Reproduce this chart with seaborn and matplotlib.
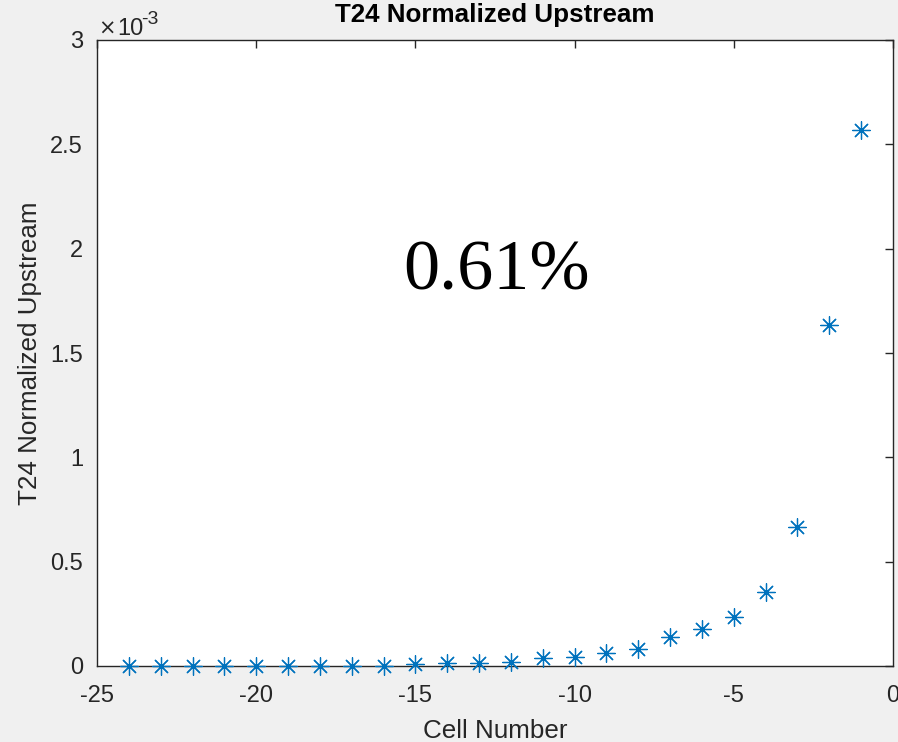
import matplotlib
matplotlib.use("Agg")
import matplotlib.pyplot as plt
from matplotlib.ticker import FuncFormatter, MultipleLocator
import seaborn as sns
import pandas as pd

# Normalized upstream signal per cell
cell_number = [-24, -23, -22, -21, -20, -19, -18, -17, -16, -15, -14, -13,
               -12, -11, -10, -9, -8, -7, -6, -5, -4, -3, -2, -1]
normalized_upstream = [0.0, 0.0, 0.0, 0.0, 0.0, 0.0, 0.0, 0.0, 0.000001,
                       0.000008, 0.000013, 0.000016, 0.000019, 0.000040,
                       0.000045, 0.000064, 0.000081, 0.000137, 0.000179,
                       0.000236, 0.000355, 0.000666, 0.001634, 0.002568]
annotation = "0.61%"

df = pd.DataFrame({"Cell Number": cell_number,
                   "T24 Normalized Upstream": normalized_upstream})

sns.set_theme(style="white")
plt.rcParams["font.family"] = ["Liberation Sans", "DejaVu Sans"]

axis_col = "#262626"
fig = plt.figure(figsize=(8.98, 7.42), dpi=100, facecolor="#F0F0F0")
ax = fig.add_axes([97 / 898, 1 - 666 / 742, (893 - 97) / 898, (666 - 40) / 742])
ax.set_facecolor("white")

sns.scatterplot(data=df, x="Cell Number", y="T24 Normalized Upstream", ax=ax,
                marker=(8, 2, 0), s=160, color="#0072BD", linewidth=0.9,
                edgecolor="#0072BD", clip_on=False, zorder=3)

ax.set_xlim(-25, 0)
ax.set_ylim(0, 0.003)
ax.xaxis.set_major_locator(MultipleLocator(5))
ax.yaxis.set_major_locator(MultipleLocator(0.0005))
ax.yaxis.set_major_formatter(FuncFormatter(lambda v, p: f"{v * 1e3:g}"))
ax.xaxis.set_major_formatter(FuncFormatter(lambda v, p: f"{v:g}"))

for sp in ax.spines.values():
    sp.set_visible(True)
    sp.set_color(axis_col)
    sp.set_linewidth(1.0)

ax.tick_params(direction="in", length=6, width=1.0, color=axis_col,
               labelcolor=axis_col, labelsize=17, top=True, right=True)
ax.tick_params(axis="x", pad=14)
ax.tick_params(axis="y", pad=10)

ax.set_xlabel("Cell Number", fontsize=18.7, color=axis_col, labelpad=8)
ax.set_ylabel("T24 Normalized Upstream", fontsize=18.7, color=axis_col, labelpad=6)
ax.set_title("T24 Normalized Upstream", fontsize=18.7, fontweight="bold",
             color="black", pad=13)

# exponent label for the y axis
ax.text(0.002, 1.008, "\u00d7", transform=ax.transAxes, family="DejaVu Sans",
        fontsize=15, color=axis_col, ha="left", va="baseline")
ax.text(0.026, 1.008, "10", transform=ax.transAxes,
        fontsize=17, color=axis_col, ha="left", va="baseline")
ax.text(0.056, 1.025, "-3", transform=ax.transAxes,
        fontsize=14, color=axis_col, ha="left", va="baseline")

ax.text(0.502, 0.63, annotation, transform=ax.transAxes, fontsize=52,
        family=["Liberation Serif", "DejaVu Serif"], color="black",
        ha="center", va="center")

fig.savefig("out.png", dpi=100, facecolor=fig.get_facecolor())
